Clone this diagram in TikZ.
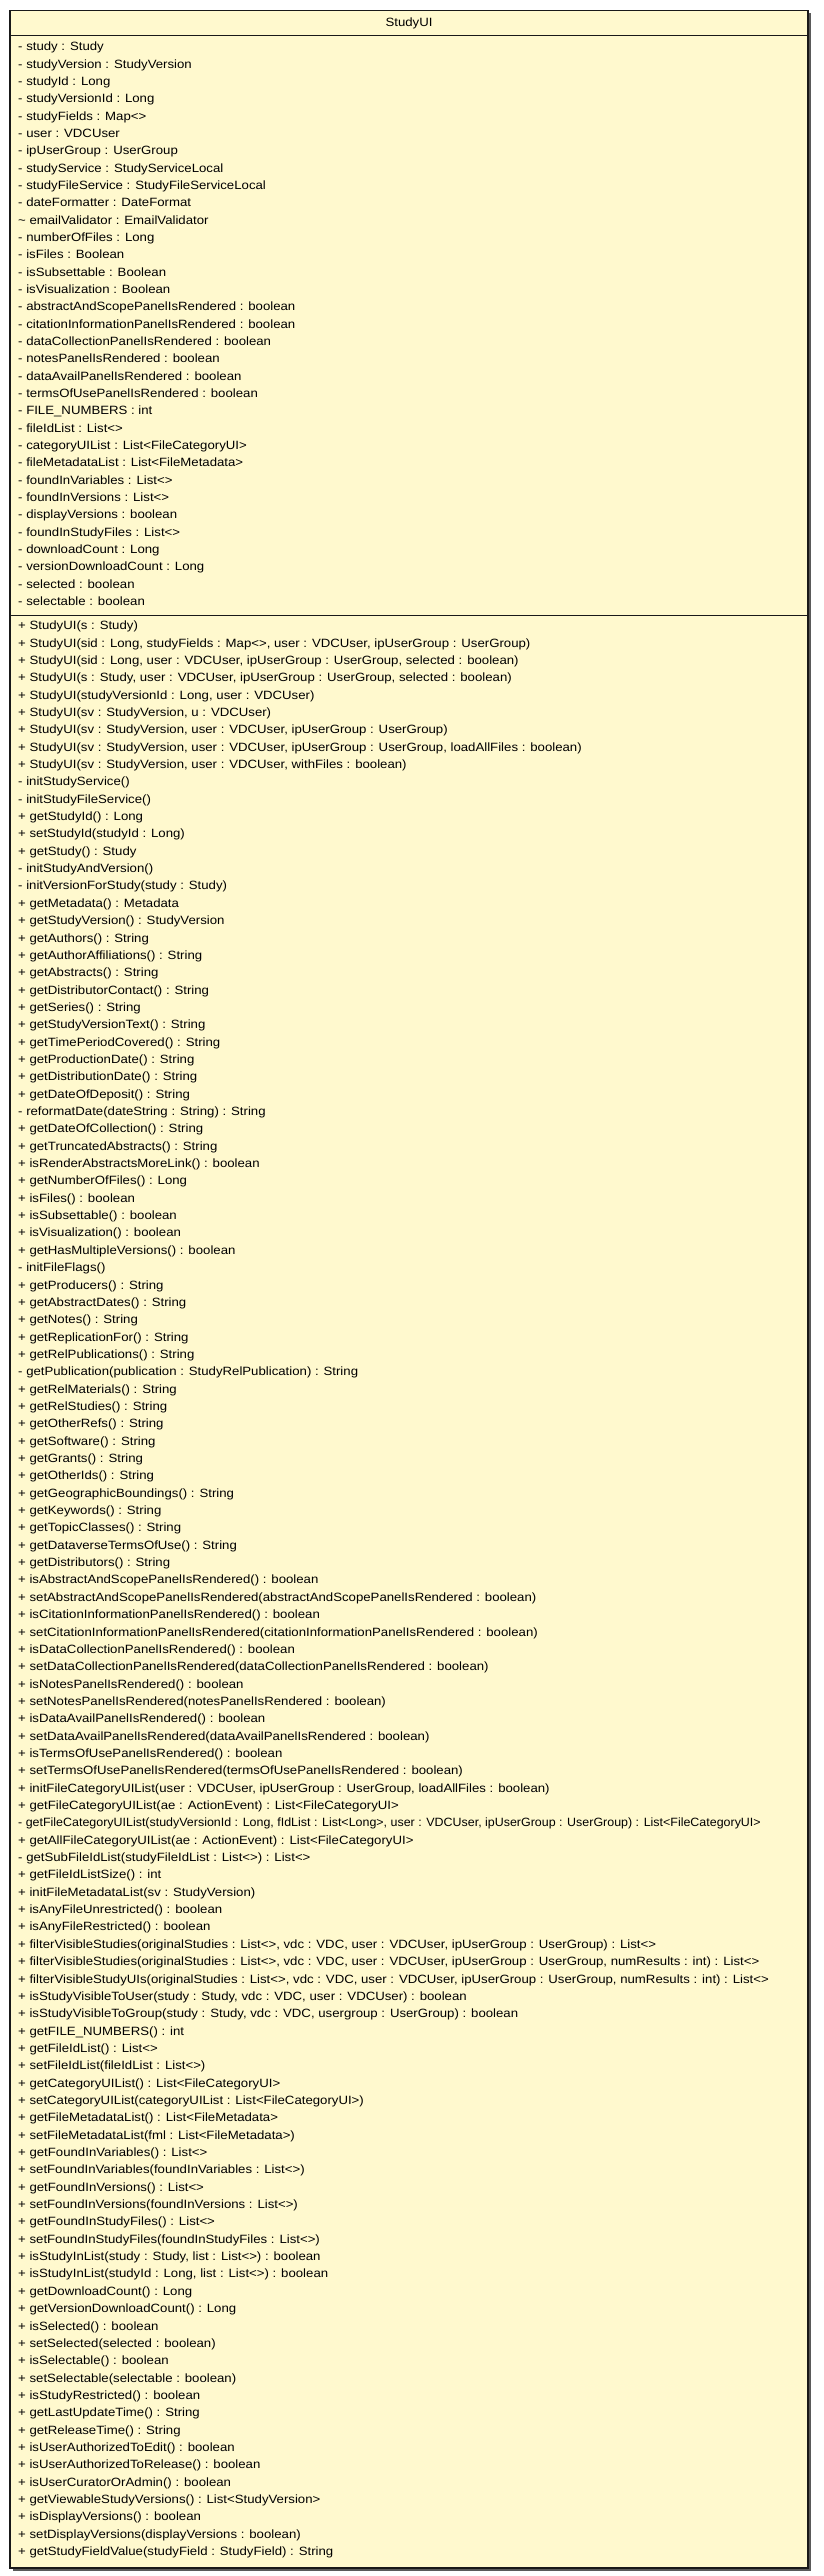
\documentclass[tikz,border=0pt]{standalone}
\usepackage{fontspec}
\setmainfont{Liberation Sans}[FakeStretch=1.1]
\definecolor{boxfill}{RGB}{255,249,206}
\definecolor{boxline}{RGB}{25,25,25}
\definecolor{shadowc}{RGB}{90,90,90}
\tikzset{
  mem/.style={anchor=west, inner sep=0pt, text height=9pt, text depth=3pt, font=\fontsize{12}{14}\selectfont},
  titletext/.style={inner sep=0pt, font=\fontsize{12}{14}\selectfont},
  umlbox/.style={draw=boxline, line width=1.2pt, fill=boxfill},
  umlsep/.style={draw=boxline, line width=1.4pt},
  umlshadow/.style={fill=shadowc}
}
\newcommand\attrline[2]{\node[mem] (a#1) at (18,{-47.7-17.34*#1}) {#2};}
\newcommand\methline[2]{\node[mem] (m#1) at (18,{-626.7-17.35*#1}) {#2};}
\begin{document}
\begin{tikzpicture}[x=1pt,y=1pt]
\useasboundingbox (0,0) rectangle (824,-2576);
\fill[umlshadow] (12.5,-13.2) rectangle (810.5,-2570.5);
\draw[umlbox] (10,-10.7) rectangle (808,-2568);
\draw[umlsep] (10,-35.7) -- (808,-35.7);
\draw[umlsep] (10,-615.7) -- (808,-615.7);
\node[titletext] (title) at (409,-23.3) {StudyUI};
\attrline{0}{- study : Study}
\attrline{1}{- studyVersion : StudyVersion}
\attrline{2}{- studyId : Long}
\attrline{3}{- studyVersionId : Long}
\attrline{4}{- studyFields : Map<>}
\attrline{5}{- user : VDCUser}
\attrline{6}{- ipUserGroup : UserGroup}
\attrline{7}{- studyService : StudyServiceLocal}
\attrline{8}{- studyFileService : StudyFileServiceLocal}
\attrline{9}{- dateFormatter : DateFormat}
\attrline{10}{\textasciitilde{} emailValidator : EmailValidator}
\attrline{11}{- numberOfFiles : Long}
\attrline{12}{- isFiles : Boolean}
\attrline{13}{- isSubsettable : Boolean}
\attrline{14}{- isVisualization : Boolean}
\attrline{15}{- abstractAndScopePanelIsRendered : boolean}
\attrline{16}{- citationInformationPanelIsRendered : boolean}
\attrline{17}{- dataCollectionPanelIsRendered : boolean}
\attrline{18}{- notesPanelIsRendered : boolean}
\attrline{19}{- dataAvailPanelIsRendered : boolean}
\attrline{20}{- termsOfUsePanelIsRendered : boolean}
\attrline{21}{- FILE\_NUMBERS : int}
\attrline{22}{- fileIdList : List<>}
\attrline{23}{- categoryUIList : List<FileCategoryUI>}
\attrline{24}{- fileMetadataList : List<FileMetadata>}
\attrline{25}{- foundInVariables : List<>}
\attrline{26}{- foundInVersions : List<>}
\attrline{27}{- displayVersions : boolean}
\attrline{28}{- foundInStudyFiles : List<>}
\attrline{29}{- downloadCount : Long}
\attrline{30}{- versionDownloadCount : Long}
\attrline{31}{- selected : boolean}
\attrline{32}{- selectable : boolean}
\methline{0}{+ StudyUI(s : Study)}
\methline{1}{+ StudyUI(sid : Long, studyFields : Map<>, user : VDCUser, ipUserGroup : UserGroup)}
\methline{2}{+ StudyUI(sid : Long, user : VDCUser, ipUserGroup : UserGroup, selected : boolean)}
\methline{3}{+ StudyUI(s : Study, user : VDCUser, ipUserGroup : UserGroup, selected : boolean)}
\methline{4}{+ StudyUI(studyVersionId : Long, user : VDCUser)}
\methline{5}{+ StudyUI(sv : StudyVersion, u : VDCUser)}
\methline{6}{+ StudyUI(sv : StudyVersion, user : VDCUser, ipUserGroup : UserGroup)}
\methline{7}{+ StudyUI(sv : StudyVersion, user : VDCUser, ipUserGroup : UserGroup, loadAllFiles : boolean)}
\methline{8}{+ StudyUI(sv : StudyVersion, user : VDCUser, withFiles : boolean)}
\methline{9}{- initStudyService()}
\methline{10}{- initStudyFileService()}
\methline{11}{+ getStudyId() : Long}
\methline{12}{+ setStudyId(studyId : Long)}
\methline{13}{+ getStudy() : Study}
\methline{14}{- initStudyAndVersion()}
\methline{15}{- initVersionForStudy(study : Study)}
\methline{16}{+ getMetadata() : Metadata}
\methline{17}{+ getStudyVersion() : StudyVersion}
\methline{18}{+ getAuthors() : String}
\methline{19}{+ getAuthorAffiliations() : String}
\methline{20}{+ getAbstracts() : String}
\methline{21}{+ getDistributorContact() : String}
\methline{22}{+ getSeries() : String}
\methline{23}{+ getStudyVersionText() : String}
\methline{24}{+ getTimePeriodCovered() : String}
\methline{25}{+ getProductionDate() : String}
\methline{26}{+ getDistributionDate() : String}
\methline{27}{+ getDateOfDeposit() : String}
\methline{28}{- reformatDate(dateString : String) : String}
\methline{29}{+ getDateOfCollection() : String}
\methline{30}{+ getTruncatedAbstracts() : String}
\methline{31}{+ isRenderAbstractsMoreLink() : boolean}
\methline{32}{+ getNumberOfFiles() : Long}
\methline{33}{+ isFiles() : boolean}
\methline{34}{+ isSubsettable() : boolean}
\methline{35}{+ isVisualization() : boolean}
\methline{36}{+ getHasMultipleVersions() : boolean}
\methline{37}{- initFileFlags()}
\methline{38}{+ getProducers() : String}
\methline{39}{+ getAbstractDates() : String}
\methline{40}{+ getNotes() : String}
\methline{41}{+ getReplicationFor() : String}
\methline{42}{+ getRelPublications() : String}
\methline{43}{- getPublication(publication : StudyRelPublication) : String}
\methline{44}{+ getRelMaterials() : String}
\methline{45}{+ getRelStudies() : String}
\methline{46}{+ getOtherRefs() : String}
\methline{47}{+ getSoftware() : String}
\methline{48}{+ getGrants() : String}
\methline{49}{+ getOtherIds() : String}
\methline{50}{+ getGeographicBoundings() : String}
\methline{51}{+ getKeywords() : String}
\methline{52}{+ getTopicClasses() : String}
\methline{53}{+ getDataverseTermsOfUse() : String}
\methline{54}{+ getDistributors() : String}
\methline{55}{+ isAbstractAndScopePanelIsRendered() : boolean}
\methline{56}{+ setAbstractAndScopePanelIsRendered(abstractAndScopePanelIsRendered : boolean)}
\methline{57}{+ isCitationInformationPanelIsRendered() : boolean}
\methline{58}{+ setCitationInformationPanelIsRendered(citationInformationPanelIsRendered : boolean)}
\methline{59}{+ isDataCollectionPanelIsRendered() : boolean}
\methline{60}{+ setDataCollectionPanelIsRendered(dataCollectionPanelIsRendered : boolean)}
\methline{61}{+ isNotesPanelIsRendered() : boolean}
\methline{62}{+ setNotesPanelIsRendered(notesPanelIsRendered : boolean)}
\methline{63}{+ isDataAvailPanelIsRendered() : boolean}
\methline{64}{+ setDataAvailPanelIsRendered(dataAvailPanelIsRendered : boolean)}
\methline{65}{+ isTermsOfUsePanelIsRendered() : boolean}
\methline{66}{+ setTermsOfUsePanelIsRendered(termsOfUsePanelIsRendered : boolean)}
\methline{67}{+ initFileCategoryUIList(user : VDCUser, ipUserGroup : UserGroup, loadAllFiles : boolean)}
\methline{68}{+ getFileCategoryUIList(ae : ActionEvent) : List<FileCategoryUI>}
\methline{69}{\scalebox{0.943}[1]{- getFileCategoryUIList(studyVersionId : Long, fIdList : List<Long>, user : VDCUser, ipUserGroup : UserGroup) : List<FileCategoryUI>}}
\methline{70}{+ getAllFileCategoryUIList(ae : ActionEvent) : List<FileCategoryUI>}
\methline{71}{- getSubFileIdList(studyFileIdList : List<>) : List<>}
\methline{72}{+ getFileIdListSize() : int}
\methline{73}{+ initFileMetadataList(sv : StudyVersion)}
\methline{74}{+ isAnyFileUnrestricted() : boolean}
\methline{75}{+ isAnyFileRestricted() : boolean}
\methline{76}{+ filterVisibleStudies(originalStudies : List<>, vdc : VDC, user : VDCUser, ipUserGroup : UserGroup) : List<>}
\methline{77}{+ filterVisibleStudies(originalStudies : List<>, vdc : VDC, user : VDCUser, ipUserGroup : UserGroup, numResults : int) : List<>}
\methline{78}{+ filterVisibleStudyUIs(originalStudies : List<>, vdc : VDC, user : VDCUser, ipUserGroup : UserGroup, numResults : int) : List<>}
\methline{79}{+ isStudyVisibleToUser(study : Study, vdc : VDC, user : VDCUser) : boolean}
\methline{80}{+ isStudyVisibleToGroup(study : Study, vdc : VDC, usergroup : UserGroup) : boolean}
\methline{81}{+ getFILE\_NUMBERS() : int}
\methline{82}{+ getFileIdList() : List<>}
\methline{83}{+ setFileIdList(fileIdList : List<>)}
\methline{84}{+ getCategoryUIList() : List<FileCategoryUI>}
\methline{85}{+ setCategoryUIList(categoryUIList : List<FileCategoryUI>)}
\methline{86}{+ getFileMetadataList() : List<FileMetadata>}
\methline{87}{+ setFileMetadataList(fml : List<FileMetadata>)}
\methline{88}{+ getFoundInVariables() : List<>}
\methline{89}{+ setFoundInVariables(foundInVariables : List<>)}
\methline{90}{+ getFoundInVersions() : List<>}
\methline{91}{+ setFoundInVersions(foundInVersions : List<>)}
\methline{92}{+ getFoundInStudyFiles() : List<>}
\methline{93}{+ setFoundInStudyFiles(foundInStudyFiles : List<>)}
\methline{94}{+ isStudyInList(study : Study, list : List<>) : boolean}
\methline{95}{+ isStudyInList(studyId : Long, list : List<>) : boolean}
\methline{96}{+ getDownloadCount() : Long}
\methline{97}{+ getVersionDownloadCount() : Long}
\methline{98}{+ isSelected() : boolean}
\methline{99}{+ setSelected(selected : boolean)}
\methline{100}{+ isSelectable() : boolean}
\methline{101}{+ setSelectable(selectable : boolean)}
\methline{102}{+ isStudyRestricted() : boolean}
\methline{103}{+ getLastUpdateTime() : String}
\methline{104}{+ getReleaseTime() : String}
\methline{105}{+ isUserAuthorizedToEdit() : boolean}
\methline{106}{+ isUserAuthorizedToRelease() : boolean}
\methline{107}{+ isUserCuratorOrAdmin() : boolean}
\methline{108}{+ getViewableStudyVersions() : List<StudyVersion>}
\methline{109}{+ isDisplayVersions() : boolean}
\methline{110}{+ setDisplayVersions(displayVersions : boolean)}
\methline{111}{+ getStudyFieldValue(studyField : StudyField) : String}
\end{tikzpicture}
\end{document}
